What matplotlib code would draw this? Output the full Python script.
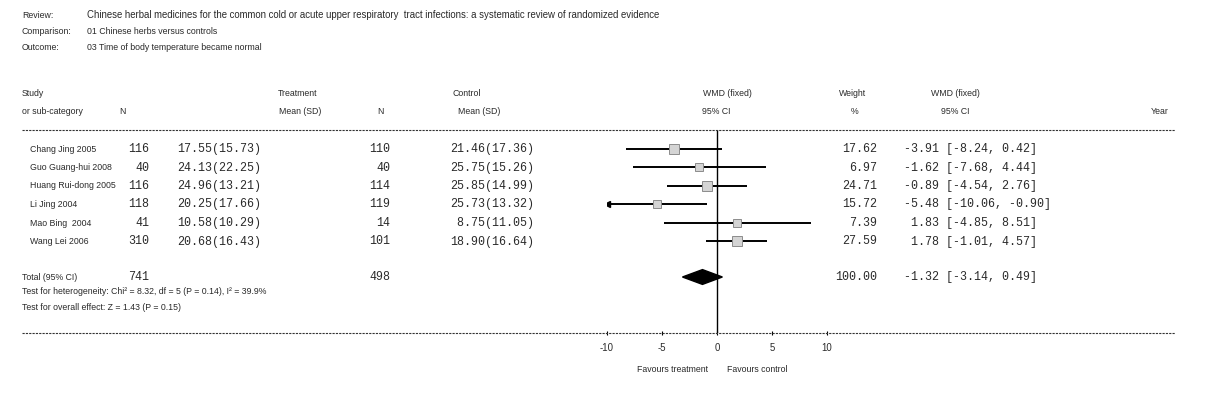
import matplotlib
matplotlib.use("Agg")
import matplotlib.pyplot as plt
from matplotlib.lines import Line2D
from matplotlib.patches import Polygon

# ---------------- data ----------------
review = ("Chinese herbal medicines for the common cold or acute upper respiratory  "
          "tract infections: a systematic review of randomized evidence")
comparison = "01 Chinese herbs versus controls"
outcome = "03 Time of body temperature became normal"

studies = ["Chang Jing 2005", "Guo Guang-hui 2008", "Huang Rui-dong 2005",
           "Li Jing 2004", "Mao Bing  2004", "Wang Lei 2006"]
treat_n = [116, 40, 116, 118, 41, 310]
treat_mean = [17.55, 24.13, 24.96, 20.25, 10.58, 20.68]
treat_sd = [15.73, 22.25, 13.21, 17.66, 10.29, 16.43]
ctrl_n = [110, 40, 114, 119, 14, 101]
ctrl_mean = [21.46, 25.75, 25.85, 25.73, 8.75, 18.90]
ctrl_sd = [17.36, 15.26, 14.99, 13.32, 11.05, 16.64]
weights = [17.62, 6.97, 24.71, 15.72, 7.39, 27.59]
wmd = [-3.91, -1.62, -0.89, -5.48, 1.83, 1.78]
ci_low = [-8.24, -7.68, -4.54, -10.06, -4.85, -1.01]
ci_high = [0.42, 4.44, 2.76, -0.90, 8.51, 4.57]
total_treat_n = 741
total_ctrl_n = 498
total_weight = 100.00
total_wmd, total_low, total_high = -1.32, -3.14, 0.49
heterogeneity = "Test for heterogeneity: Chi\u00b2 = 8.32, df = 5 (P = 0.14), I\u00b2 = 39.9%"
overall = "Test for overall effect: Z = 1.43 (P = 0.15)"
xticks = [-10, -5, 0, 5, 10]
xlim = (-10, 10)

# ---------------- layout ----------------
W, H = 1212, 393
fig = plt.figure(figsize=(W / 100, H / 100), dpi=100)
fig.patch.set_facecolor("white")

SANS = "Liberation Sans"
MONO = "Liberation Mono"
FS = 6.3
FSM = 8.4
TXT = "#2a2a2a"


def T(x, y, s, ha="left", mono=False, size=None, **kw):
    fs = size if size is not None else (FSM if mono else FS)
    fig.text(x / W, 1 - y / H, s, ha=ha, va="center",
             family=MONO if mono else SANS, fontsize=fs, color=TXT, **kw)


def hline(y, x0=22, x1=1175):
    fig.add_artist(Line2D([x0 / W, x1 / W], [1 - y / H, 1 - y / H],
                          transform=fig.transFigure, color="#333333",
                          lw=0.8, linestyle=(0, (2.0, 1.0))))


# header block
T(22, 15, "Review:")
T(87, 15, review, size=6.9)
T(22, 32, "Comparison:")
T(87, 32, comparison)
T(22, 47, "Outcome:")
T(87, 47, outcome)

# column headers
T(22, 93, "Study")
T(22, 111, "or sub-category")
T(122, 111, "N", ha="center")
T(298, 93, "Treatment", ha="center")
T(300, 111, "Mean (SD)", ha="center")
T(380, 111, "N", ha="center")
T(467, 93, "Control", ha="center")
T(479, 111, "Mean (SD)", ha="center")
T(727, 93, "WMD (fixed)", ha="center")
T(716, 111, "95% CI", ha="center")
T(853, 93, "Weight", ha="center")
T(855, 111, "%", ha="center")
T(955, 93, "WMD (fixed)", ha="center")
T(955, 111, "95% CI", ha="center")
T(1160, 111, "Year", ha="center")

hline(130)
hline(333)

# forest axes: x -10..10 -> px 607..827, y px 130..333
row0, step = 149.0, 18.5
ax_left, ax_right, ax_top, ax_bot = 607, 827, 130, 333
ax = fig.add_axes([ax_left / W, 1 - ax_bot / H, (ax_right - ax_left) / W,
                   (ax_bot - ax_top) / H])
ax.set_xlim(*xlim)
ax.set_ylim((ax_bot - row0) / step, (ax_top - row0) / step)
ax.patch.set_alpha(0)
for sp in ax.spines.values():
    sp.set_visible(False)
ax.set_yticks([])
ax.set_xticks(xticks)
ax.set_xticklabels([str(t) for t in xticks], family=SANS, fontsize=FS + 0.6,
                   color=TXT)
ax.tick_params(axis="x", length=3, width=0.8, direction="inout", pad=6)
ax.axvline(0, color="black", lw=1.0)

rows = list(range(len(studies)))
total_row = (277 - row0) / step

for i in rows:
    lo, hi = ci_low[i], ci_high[i]
    lo_c = max(lo, xlim[0])
    hi_c = min(hi, xlim[1])
    ax.plot([lo_c, hi_c], [i, i], color="black", lw=1.4, solid_capstyle="butt")
    if lo < xlim[0]:
        ax.plot([xlim[0]], [i], marker="<", color="black", ms=5)
    if hi > xlim[1]:
        ax.plot([xlim[1]], [i], marker=">", color="black", ms=5)
    ax.plot([wmd[i]], [i], marker="s", ms=6.0 + weights[i] * 0.03,
            mfc="#d4d4d4", mec="#8c8c8c", mew=0.7, zorder=5)

# total diamond
dh = 0.4
diamond = Polygon([[total_low, total_row], [total_wmd, total_row - dh],
                   [total_high, total_row], [total_wmd, total_row + dh]],
                  closed=True, facecolor="black", edgecolor="black")
ax.add_patch(diamond)

T(708, 370, "Favours treatment", ha="right")
T(727, 370, "Favours control")

# study rows text
for i, name in enumerate(studies):
    y = row0 + i * step
    T(30, y, name)
    T(149, y, f"{treat_n[i]}", ha="right", mono=True)
    T(177, y, f"{treat_mean[i]:.2f}({treat_sd[i]:.2f})", mono=True)
    T(390, y, f"{ctrl_n[i]}", ha="right", mono=True)
    T(450, y, f"{ctrl_mean[i]:5.2f}({ctrl_sd[i]:.2f})", mono=True)
    T(877, y, f"{weights[i]:.2f}", ha="right", mono=True)
    T(904, y, f"{wmd[i]:5.2f} [{ci_low[i]:.2f}, {ci_high[i]:.2f}]", mono=True)

T(22, 277, "Total (95% CI)")
T(149, 277, f"{total_treat_n}", ha="right", mono=True)
T(390, 277, f"{total_ctrl_n}", ha="right", mono=True)
T(877, 277, f"{total_weight:.2f}", ha="right", mono=True)
T(904, 277, f"{total_wmd:5.2f} [{total_low:.2f}, {total_high:.2f}]", mono=True)
T(22, 292, heterogeneity)
T(22, 307, overall)

fig.savefig("out.png", dpi=100, facecolor="white")
